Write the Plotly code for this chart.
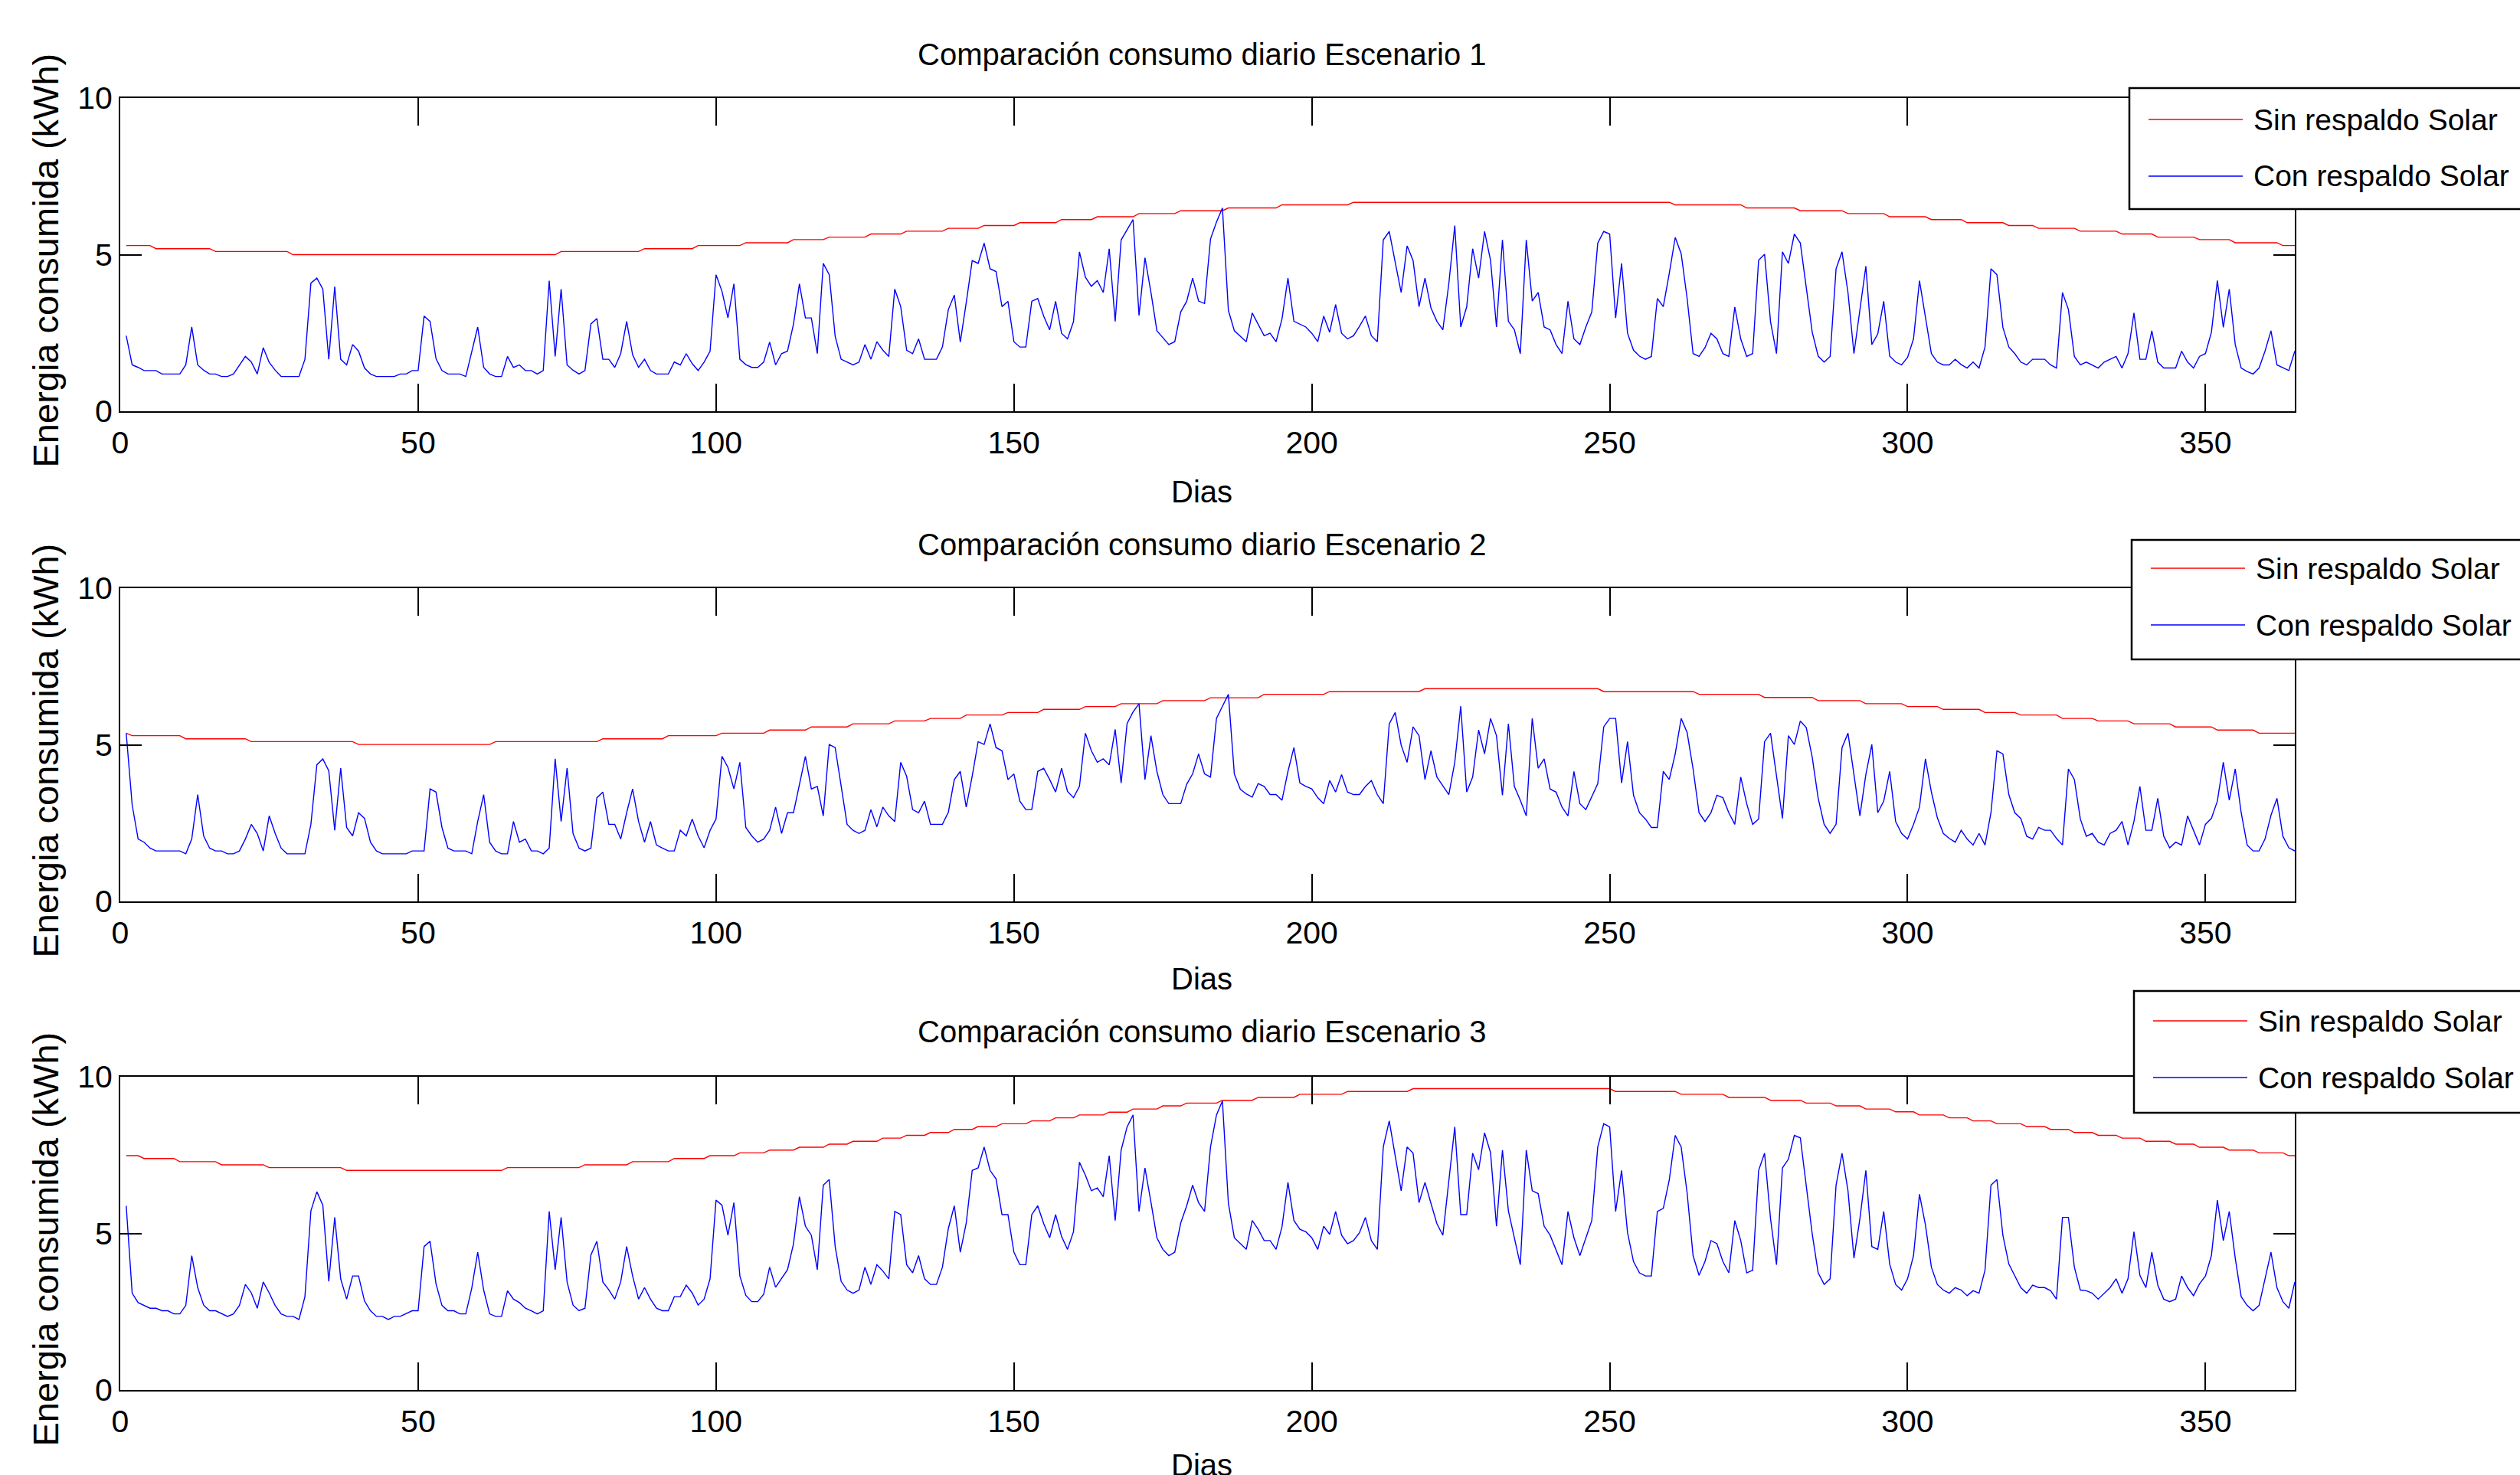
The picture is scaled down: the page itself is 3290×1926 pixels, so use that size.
import numpy as np
import plotly.graph_objects as go

W, H = 3290, 1926

# ---------------- data ----------------
titles = ["Comparación consumo diario Escenario 1",
          "Comparación consumo diario Escenario 2",
          "Comparación consumo diario Escenario 3"]
x_ticks = [0, 50, 100, 150, 200, 250, 300, 350]
y_ticks = [0, 5, 10]

# "Sin respaldo Solar" (stepped curve): level values and last day of each level
red1_vals = [5.29, 5.19, 5.10, 5.00, 5.10, 5.19, 5.29, 5.38, 5.48, 5.56, 5.66, 5.75, 5.84, 5.93, 6.02, 6.12,
             6.21, 6.31, 6.40, 6.49, 6.59, 6.67, 6.59, 6.49, 6.40, 6.31, 6.21, 6.12, 6.02, 5.93, 5.84, 5.75,
             5.66, 5.56, 5.48, 5.38, 5.29]
red1_end = [5, 15, 28, 73, 87, 96, 104, 112, 118, 125, 131, 138, 144, 150, 157, 163, 170, 177, 185, 194, 206,
            260, 272, 281, 289, 296, 303, 309, 316, 321, 328, 335, 341, 348, 354, 362, 365]

red2_vals = [5.37, 5.29, 5.19, 5.10, 5.01, 5.10, 5.19, 5.29, 5.37, 5.47, 5.57, 5.67, 5.76, 5.84, 5.95, 6.03,
             6.13, 6.22, 6.31, 6.41, 6.50, 6.61, 6.70, 6.79, 6.70, 6.61, 6.51, 6.41, 6.31, 6.22, 6.13, 6.03,
             5.95, 5.84, 5.76, 5.67, 5.57, 5.47, 5.37]
red2_end = [1, 10, 21, 39, 62, 80, 91, 100, 108, 115, 122, 129, 135, 141, 148, 154, 161, 167, 174, 182, 191,
            202, 218, 248, 264, 275, 284, 292, 299, 305, 312, 318, 325, 331, 337, 344, 351, 358, 365]

red3_vals = [7.48, 7.39, 7.29, 7.19, 7.10, 7.01, 7.10, 7.19, 7.29, 7.39, 7.48, 7.57, 7.66, 7.75, 7.85, 7.94,
             8.04, 8.13, 8.22, 8.32, 8.41, 8.50, 8.59, 8.69, 8.78, 8.87, 8.97, 9.07, 9.16, 9.25, 9.34, 9.44,
             9.53, 9.62, 9.53, 9.44, 9.34, 9.25, 9.16, 9.07, 8.97, 8.88, 8.78, 8.69, 8.59, 8.50, 8.41, 8.32,
             8.22, 8.13, 8.04, 7.94, 7.85, 7.75, 7.66, 7.57, 7.48]
red3_end = [3, 9, 16, 24, 37, 64, 77, 85, 92, 98, 103, 108, 113, 118, 122, 127, 131, 135, 139, 143, 147, 152,
            156, 160, 165, 169, 174, 178, 184, 190, 197, 205, 216, 250, 261, 269, 276, 282, 287, 292, 297, 301,
            306, 310, 314, 319, 323, 327, 331, 335, 339, 344, 348, 353, 358, 363, 365]

# "Con respaldo Solar" daily values (days 1..365)
blue1 = [
    2.41, 1.48, 1.40, 1.30, 1.30, 1.30, 1.19, 1.19, 1.19, 1.19,
    1.48, 2.69, 1.48, 1.31, 1.19, 1.19, 1.11, 1.11, 1.19, 1.46,
    1.75, 1.57, 1.19, 2.03, 1.56, 1.31, 1.11, 1.11, 1.11, 1.11,
    1.66, 4.09, 4.25, 3.90, 1.66, 3.98, 1.66, 1.48, 2.13, 1.92,
    1.38, 1.19, 1.11, 1.11, 1.11, 1.11, 1.19, 1.19, 1.30, 1.30,
    3.04, 2.87, 1.68, 1.30, 1.19, 1.19, 1.19, 1.11, 1.88, 2.69,
    1.40, 1.19, 1.11, 1.11, 1.75, 1.40, 1.48, 1.30, 1.30, 1.19,
    1.30, 4.17, 1.75, 3.90, 1.48, 1.31, 1.19, 1.30, 2.79, 2.96,
    1.66, 1.66, 1.40, 1.84, 2.87, 1.80, 1.40, 1.66, 1.30, 1.19,
    1.19, 1.19, 1.57, 1.48, 1.84, 1.52, 1.30, 1.57, 1.92, 4.36,
    3.83, 2.98, 4.07, 1.66, 1.49, 1.40, 1.40, 1.57, 2.21, 1.48,
    1.84, 1.92, 2.78, 4.07, 2.98, 2.98, 1.84, 4.72, 4.36, 2.39,
    1.66, 1.56, 1.48, 1.57, 2.13, 1.66, 2.22, 1.95, 1.75, 3.90,
    3.34, 1.95, 1.84, 2.31, 1.66, 1.66, 1.66, 2.05, 3.25, 3.71,
    2.21, 3.47, 4.81, 4.72, 5.37, 4.55, 4.46, 3.34, 3.51, 2.22,
    2.05, 2.05, 3.51, 3.60, 3.04, 2.60, 3.51, 2.49, 2.31, 2.86,
    5.09, 4.28, 3.99, 4.17, 3.79, 5.19, 2.87, 5.47, 5.80, 6.12,
    3.06, 4.90, 3.80, 2.57, 2.35, 2.13, 2.22, 3.17, 3.51, 4.25,
    3.52, 3.44, 5.50, 6.04, 6.49, 3.22, 2.57, 2.39, 2.22, 3.14,
    2.76, 2.41, 2.49, 2.22, 2.95, 4.25, 2.87, 2.78, 2.69, 2.49,
    2.22, 3.04, 2.52, 3.41, 2.49, 2.31, 2.41, 2.71, 3.04, 2.41,
    2.22, 5.47, 5.74, 4.76, 3.79, 5.28, 4.81, 3.34, 4.25, 3.30,
    2.87, 2.60, 4.07, 5.93, 2.69, 3.33, 5.19, 4.25, 5.74, 4.82,
    2.69, 5.47, 2.87, 2.60, 1.84, 5.47, 3.52, 3.79, 2.69, 2.60,
    2.13, 1.84, 3.51, 2.31, 2.13, 2.69, 3.17, 5.37, 5.74, 5.66,
    2.98, 4.72, 2.49, 1.95, 1.76, 1.66, 1.75, 3.60, 3.34, 4.40,
    5.55, 5.03, 3.60, 1.84, 1.75, 2.03, 2.49, 2.31, 1.84, 1.75,
    3.33, 2.31, 1.75, 1.84, 4.82, 5.01, 2.86, 1.84, 5.09, 4.72,
    5.66, 5.37, 3.99, 2.52, 1.76, 1.57, 1.75, 4.55, 5.09, 3.79,
    1.84, 3.30, 4.63, 2.13, 2.47, 3.51, 1.76, 1.57, 1.48, 1.72,
    2.31, 4.17, 3.02, 1.84, 1.57, 1.48, 1.48, 1.66, 1.49, 1.38,
    1.57, 1.38, 2.05, 4.55, 4.36, 2.68, 2.05, 1.84, 1.57, 1.48,
    1.66, 1.66, 1.66, 1.48, 1.38, 3.79, 3.25, 1.75, 1.48, 1.57,
    1.48, 1.38, 1.57, 1.66, 1.75, 1.38, 1.84, 3.14, 1.66, 1.66,
    2.57, 1.57, 1.38, 1.38, 1.38, 1.92, 1.57, 1.38, 1.75, 1.84,
    2.52, 4.17, 2.68, 3.90, 2.13, 1.38, 1.27, 1.19, 1.38, 1.92,
    2.57, 1.48, 1.38, 1.30, 1.92]

blue2 = [
    5.37, 3.08, 1.99, 1.89, 1.70, 1.61, 1.61, 1.61, 1.61, 1.61,
    1.52, 1.99, 3.41, 2.09, 1.70, 1.61, 1.61, 1.52, 1.52, 1.61,
    1.99, 2.46, 2.17, 1.61, 2.73, 2.17, 1.70, 1.52, 1.52, 1.52,
    1.52, 2.46, 4.36, 4.55, 4.17, 2.27, 4.25, 2.36, 2.09, 2.83,
    2.65, 1.89, 1.61, 1.52, 1.52, 1.52, 1.52, 1.52, 1.61, 1.61,
    1.61, 3.59, 3.49, 2.36, 1.70, 1.61, 1.61, 1.61, 1.52, 2.55,
    3.41, 1.89, 1.61, 1.52, 1.52, 2.55, 1.89, 1.99, 1.61, 1.61,
    1.52, 1.70, 4.55, 2.55, 4.25, 2.17, 1.70, 1.61, 1.70, 3.31,
    3.49, 2.46, 2.46, 1.99, 2.83, 3.59, 2.55, 1.89, 2.55, 1.80,
    1.70, 1.61, 1.61, 2.27, 2.09, 2.63, 2.09, 1.71, 2.27, 2.63,
    4.63, 4.28, 3.59, 4.44, 2.36, 2.09, 1.89, 1.99, 2.27, 3.01,
    2.17, 2.83, 2.83, 3.74, 4.63, 3.59, 3.67, 2.73, 5.01, 4.91,
    3.66, 2.46, 2.27, 2.17, 2.27, 2.93, 2.38, 3.01, 2.73, 2.55,
    4.44, 3.99, 2.93, 2.83, 3.20, 2.46, 2.46, 2.46, 2.85, 3.89,
    4.15, 3.01, 4.00, 5.10, 5.01, 5.67, 4.91, 4.81, 3.89, 4.07,
    3.20, 2.93, 2.93, 4.15, 4.25, 3.89, 3.49, 4.25, 3.51, 3.31,
    3.67, 5.37, 4.81, 4.44, 4.55, 4.36, 5.49, 3.78, 5.68, 6.05,
    6.31, 3.89, 5.29, 4.15, 3.41, 3.12, 3.12, 3.12, 3.74, 4.07,
    4.71, 4.07, 3.97, 5.84, 6.23, 6.61, 4.07, 3.58, 3.43, 3.33,
    3.76, 3.67, 3.41, 3.41, 3.23, 4.15, 4.91, 3.78, 3.67, 3.59,
    3.31, 3.12, 3.86, 3.49, 4.05, 3.49, 3.41, 3.41, 3.67, 3.86,
    3.41, 3.12, 5.67, 6.03, 4.99, 4.44, 5.57, 5.29, 3.89, 4.81,
    3.97, 3.70, 3.41, 4.44, 6.23, 3.49, 3.97, 5.47, 4.71, 5.84,
    5.29, 3.39, 5.67, 3.67, 3.23, 2.73, 5.84, 4.25, 4.55, 3.59,
    3.49, 3.01, 2.73, 4.15, 3.12, 2.93, 3.33, 3.76, 5.57, 5.84,
    5.84, 3.78, 5.10, 3.39, 2.83, 2.63, 2.36, 2.36, 4.15, 3.89,
    4.71, 5.84, 5.39, 4.23, 2.83, 2.55, 2.83, 3.39, 3.31, 2.83,
    2.46, 3.97, 3.12, 2.46, 2.63, 5.10, 5.37, 3.99, 2.65, 5.29,
    5.01, 5.76, 5.55, 4.60, 3.29, 2.46, 2.17, 2.46, 4.91, 5.37,
    4.07, 2.73, 4.05, 5.01, 2.83, 3.20, 4.15, 2.55, 2.17, 1.99,
    2.46, 3.01, 4.55, 3.49, 2.67, 2.17, 2.01, 1.89, 2.27, 1.99,
    1.80, 2.17, 1.80, 2.83, 4.81, 4.71, 3.41, 2.83, 2.65, 2.08,
    1.99, 2.36, 2.27, 2.27, 2.01, 1.80, 4.23, 3.89, 2.63, 2.08,
    2.17, 1.89, 1.80, 2.17, 2.27, 2.55, 1.80, 2.55, 3.67, 2.27,
    2.27, 3.29, 2.08, 1.71, 1.89, 1.80, 2.73, 2.26, 1.80, 2.46,
    2.65, 3.20, 4.44, 3.23, 4.23, 2.83, 1.80, 1.61, 1.61, 1.99,
    2.75, 3.29, 2.08, 1.71, 1.61]

blue3 = [
    5.88, 3.09, 2.79, 2.70, 2.61, 2.61, 2.53, 2.53, 2.43, 2.43,
    2.70, 4.29, 3.27, 2.71, 2.53, 2.53, 2.43, 2.35, 2.43, 2.70,
    3.37, 3.10, 2.61, 3.45, 3.10, 2.70, 2.43, 2.35, 2.35, 2.25,
    2.98, 5.72, 6.33, 5.90, 3.47, 5.51, 3.55, 2.90, 3.64, 3.64,
    2.84, 2.53, 2.35, 2.35, 2.25, 2.35, 2.35, 2.45, 2.53, 2.53,
    4.58, 4.75, 3.39, 2.70, 2.53, 2.53, 2.43, 2.43, 3.25, 4.40,
    3.19, 2.43, 2.35, 2.35, 3.17, 2.90, 2.79, 2.61, 2.53, 2.43,
    2.53, 5.70, 3.84, 5.51, 3.45, 2.71, 2.53, 2.61, 4.31, 4.75,
    3.45, 3.20, 2.90, 3.45, 4.58, 3.64, 2.90, 3.27, 2.90, 2.61,
    2.53, 2.53, 2.98, 2.98, 3.35, 3.10, 2.71, 2.90, 3.55, 6.06,
    5.90, 4.94, 5.98, 3.64, 3.02, 2.82, 2.82, 3.06, 3.92, 3.28,
    3.55, 3.84, 4.66, 6.17, 5.23, 4.94, 3.84, 6.54, 6.72, 4.58,
    3.47, 3.19, 3.09, 3.19, 3.92, 3.37, 4.00, 3.80, 3.55, 5.70,
    5.60, 4.00, 3.74, 4.29, 3.55, 3.37, 3.37, 3.92, 5.16, 5.88,
    4.40, 5.33, 7.01, 7.09, 7.76, 7.01, 6.74, 5.60, 5.60, 4.40,
    4.00, 4.00, 5.60, 5.88, 5.31, 4.86, 5.60, 4.90, 4.49, 5.05,
    7.27, 6.86, 6.36, 6.45, 6.17, 7.48, 5.41, 7.66, 8.40, 8.78,
    5.70, 7.09, 6.00, 4.86, 4.49, 4.29, 4.40, 5.33, 5.88, 6.54,
    5.98, 5.70, 7.76, 8.78, 9.23, 5.96, 4.86, 4.67, 4.49, 5.41,
    5.13, 4.77, 4.77, 4.49, 5.21, 6.63, 5.41, 5.13, 5.05, 4.86,
    4.49, 5.23, 4.97, 5.70, 4.94, 4.67, 4.77, 5.02, 5.51, 4.77,
    4.49, 7.76, 8.59, 7.48, 6.36, 7.76, 7.56, 5.98, 6.63, 5.96,
    5.31, 4.94, 6.70, 8.40, 5.60, 5.60, 7.56, 7.03, 8.21, 7.58,
    5.23, 7.66, 5.72, 4.86, 4.00, 7.66, 6.36, 6.27, 5.23, 4.94,
    4.49, 4.00, 5.70, 4.86, 4.29, 4.86, 5.41, 7.76, 8.50, 8.40,
    5.70, 7.01, 5.02, 4.10, 3.74, 3.64, 3.64, 5.70, 5.80, 6.70,
    8.13, 7.76, 6.29, 4.29, 3.66, 4.10, 4.77, 4.67, 4.10, 3.74,
    5.41, 4.77, 3.74, 3.82, 7.01, 7.56, 5.47, 4.00, 7.09, 7.37,
    8.13, 8.05, 6.58, 4.98, 3.74, 3.37, 3.55, 6.54, 7.56, 6.36,
    4.21, 5.47, 7.01, 4.58, 4.49, 5.70, 4.02, 3.37, 3.19, 3.55,
    4.29, 6.25, 5.27, 3.92, 3.37, 3.19, 3.09, 3.27, 3.19, 3.01,
    3.17, 3.09, 3.82, 6.54, 6.72, 4.94, 4.02, 3.64, 3.27, 3.09,
    3.35, 3.27, 3.27, 3.17, 2.90, 5.51, 5.51, 3.92, 3.19, 3.17,
    3.09, 2.90, 3.09, 3.27, 3.55, 3.09, 3.55, 5.05, 3.66, 3.27,
    4.40, 3.35, 2.90, 2.82, 2.90, 3.64, 3.27, 3.01, 3.39, 3.64,
    4.29, 6.06, 4.77, 5.70, 4.21, 2.98, 2.70, 2.53, 2.70, 3.55,
    4.40, 3.27, 2.82, 2.61, 3.45]

series_names = ["Sin respaldo Solar", "Con respaldo Solar"]


def steps(vals, ends):
    counts = np.diff([0] + ends)
    return np.repeat(vals, counts)


reds = [steps(red1_vals, red1_end), steps(red2_vals, red2_end), steps(red3_vals, red3_end)]
blues = [blue1, blue2, blue3]

# ---------------- layout helpers (pixel -> paper) ----------------
def px(x):
    return x / W


def py(y):
    return 1 - y / H


AX_L, AX_R = 157, 2996
AX_TB = [(128, 537), (768, 1177), (1406, 1815)]
TITLE_Y = [71, 711, 1347]
XLAB_Y = [642, 1278, 1913]
LEG_TOP = [115, 705, 1294]
LEG_BOT = [273, 861, 1453]
LEG_LEFT = [2780, 2783, 2786]
LEG_RED_Y = [156, 742, 1333]
LEG_BLUE_Y = [230, 816, 1407]

FONT = "Liberation Sans, Arial, Helvetica, sans-serif"

fig = go.Figure()
annotations = []
shapes = []

for i in range(3):
    xa = "x" if i == 0 else f"x{i+1}"
    ya = "y" if i == 0 else f"y{i+1}"
    red = reds[i]
    blue = blues[i]
    fig.add_trace(go.Scatter(x=list(range(1, len(red) + 1)), y=red, mode="lines",
                             line=dict(color="#FF0000", width=1.4), name=series_names[0],
                             xaxis=xa, yaxis=ya, showlegend=False))
    fig.add_trace(go.Scatter(x=list(range(1, len(blue) + 1)), y=blue, mode="lines",
                             line=dict(color="#0000FF", width=1.4), name=series_names[1],
                             xaxis=xa, yaxis=ya, showlegend=False))

    top, bot = AX_TB[i]
    axis_common = dict(showline=True, linecolor="black", linewidth=2, mirror="ticks",
                       ticks="inside", tickcolor="black", tickwidth=2,
                       showgrid=False, zeroline=False,
                       tickfont=dict(family=FONT, size=41, color="black"))
    fig.layout[("xaxis" if i == 0 else f"xaxis{i+1}")] = dict(
        domain=[px(AX_L), px(AX_R)], anchor=ya, range=[0, 365],
        tickvals=x_ticks, ticktext=[str(v) for v in x_ticks], ticklen=36,
        ticklabelstandoff=4, **axis_common)
    fig.layout[("yaxis" if i == 0 else f"yaxis{i+1}")] = dict(
        domain=[py(bot), py(top)], anchor=xa, range=[0, 10],
        tickvals=y_ticks, ticktext=[str(v) for v in y_ticks], ticklen=28,
        ticklabelstandoff=0, **axis_common)

    # subplot title
    annotations.append(dict(text=titles[i], x=px(1569), y=py(TITLE_Y[i]), xref="paper", yref="paper",
                            xanchor="center", yanchor="middle", showarrow=False,
                            font=dict(family=FONT, size=40, color="black")))
    # x label
    annotations.append(dict(text="Dias", x=px(1569), y=py(XLAB_Y[i]), xref="paper", yref="paper",
                            xanchor="center", yanchor="middle", showarrow=False,
                            font=dict(family=FONT, size=40, color="black")))
    # y label
    annotations.append(dict(text="Energia consumida (kWh)", x=px(59), y=py((top + bot) / 2 + 8),
                            xref="paper", yref="paper", xanchor="center", yanchor="middle",
                            textangle=-90, showarrow=False,
                            font=dict(family=FONT, size=47, color="black")))

    # legend box drawn as shapes + text
    shapes.append(dict(type="rect", xref="paper", yref="paper", layer="above",
                       x0=px(LEG_LEFT[i]), x1=px(3400), y0=py(LEG_BOT[i]), y1=py(LEG_TOP[i]),
                       line=dict(color="black", width=2.5), fillcolor="white"))
    for yy, col, name in [(LEG_RED_Y[i], "#FF0000", series_names[0]),
                          (LEG_BLUE_Y[i], "#0000FF", series_names[1])]:
        shapes.append(dict(type="line", xref="paper", yref="paper", layer="above",
                           x0=px(LEG_LEFT[i] + 25), x1=px(LEG_LEFT[i] + 148), y0=py(yy), y1=py(yy),
                           line=dict(color=col, width=1.6)))
        annotations.append(dict(text=name, x=px(LEG_LEFT[i] + 160), y=py(yy), xref="paper", yref="paper",
                                xanchor="left", yanchor="middle", showarrow=False,
                                font=dict(family=FONT, size=39, color="black")))

fig.update_layout(width=W, height=H, paper_bgcolor="white", plot_bgcolor="white",
                  margin=dict(l=0, r=0, t=0, b=0, autoexpand=False),
                  showlegend=False, annotations=annotations, shapes=shapes)

fig.write_html("out.html", config={"displayModeBar": False},
               post_script="document.body.style.margin='0';document.body.style.overflow='hidden';")
